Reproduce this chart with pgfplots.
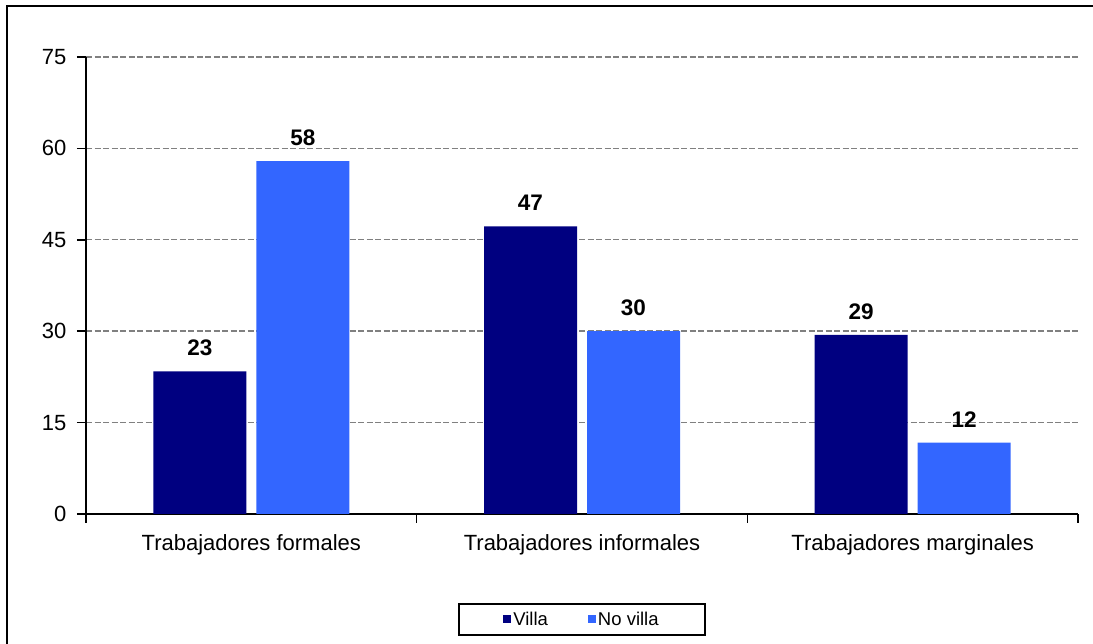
\documentclass[border=0pt]{standalone}
\usepackage{pgfplots}
\pgfplotsset{compat=1.18}
\usepackage{fontspec}
\setmainfont{Liberation Sans}
\definecolor{villa}{HTML}{000080}
\definecolor{novilla}{HTML}{3366FF}
\definecolor{gridgray}{HTML}{808080}
\begin{document}
\begin{tikzpicture}[x=1pt,y=1pt]
\useasboundingbox (0,0) rectangle (1093,644);
\draw[line width=2.2pt] (7,638) rectangle (1120,-30);
\begin{axis}[
  at={(86pt,130pt)}, anchor=south west,
  scale only axis, width=992pt, height=457pt,
  xmin=-0.5, xmax=2.5, ymin=0, ymax=75,
  axis x line*=bottom, axis y line*=left,
  axis line style={line width=1.6pt, -},
  ytick={0,15,30,45,60,75},
  xtick={0,1,2},
  xticklabels={Trabajadores formales, Trabajadores informales, Trabajadores marginales},
  minor xtick={-0.5,0.5,1.5,2.5},
  tick align=outside,
  major tick length=9pt, minor tick length=9pt,
  tick style={line width=1.6pt, black},
  major x tick style={draw=none},
  ymajorgrids, grid style={dash pattern=on 6pt off 2.5pt, gridgray, line width=1.4pt},
  /pgf/number format/assume math mode=true,
  ticklabel style={font=\fontsize{22}{26}\selectfont},
  yticklabel style={xshift=-7pt},
  xticklabel style={yshift=-8pt},
  ybar=10pt, bar width=93pt,
  nodes near coords={\pgfmathprintnumber[fixed,precision=0]{\pgfplotspointmeta}},
  every node near coord/.append style={font=\bfseries\fontsize{22.5}{26}\selectfont, yshift=12pt, black},
  legend style={at={(0.5,-0.195)}, anchor=north, legend columns=2, draw=black, line width=1.8pt,
    font=\fontsize{18.5}{22}\selectfont, inner xsep=44pt, inner ysep=6pt,
    /tikz/every even column/.append style={column sep=38pt}},
]
\addplot[fill=villa, draw=none, legend image code/.code={\fill[villa] (0pt,-4pt) rectangle (8pt,4pt);}] coordinates {(0,23.4) (1,47.2) (2,29.4)};
\addlegendentry{Villa}
\addplot[fill=novilla, draw=none, legend image code/.code={\fill[novilla] (0pt,-4pt) rectangle (8pt,4pt);}] coordinates {(0,57.9) (1,30.0) (2,11.7)};
\addlegendentry{No villa}
\end{axis}
\end{tikzpicture}
\end{document}
